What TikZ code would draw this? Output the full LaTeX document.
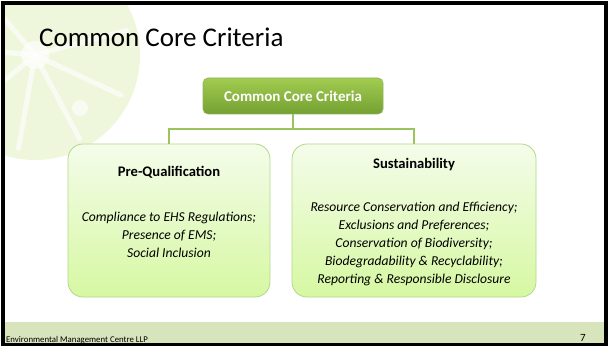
\documentclass[tikz,border=0pt]{standalone}
\usepackage{fontspec}
\setmainfont{Carlito}
\usetikzlibrary{positioning}

\definecolor{rootTop}{HTML}{A2CC50}
\definecolor{rootBottom}{HTML}{74A032}
\definecolor{boxTop}{HTML}{F4FCEA}
\definecolor{boxBottom}{HTML}{D6F8A2}
\definecolor{boxLine}{HTML}{B2D888}
\definecolor{linkGreen}{HTML}{9CC45C}
\definecolor{footerGreen}{HTML}{D8E4BC}
\definecolor{limeGreen}{HTML}{D4EBA4}

\begin{document}
\begin{tikzpicture}[
    x=1pt, y=-1pt,
    rootbox/.style={rounded corners=5pt, top color=rootTop, bottom color=rootBottom,
      draw=rootBottom!80, line width=0.6pt, minimum width=180pt, minimum height=36pt,
      text=white, font=\bfseries\fontsize{15}{18}\selectfont},
    critbox/.style={rounded corners=15pt, top color=boxTop, bottom color=boxBottom,
      draw=boxLine, line width=0.8pt, minimum height=153pt},
    head/.style={font=\bfseries\fontsize{14.6}{17}\selectfont},
    body/.style={align=center, font=\itshape\fontsize{13.6}{18}\selectfont},
    link/.style={draw=linkGreen, line width=1.6pt}
  ]

    % 1. Frame and background
    \useasboundingbox (0,0) rectangle (609,347);
    \fill[white] (0,0) rectangle (609,347);
    \begin{scope}
      \clip (5,5) rectangle (604,322);
      \fill[limeGreen, opacity=0.38] (35,55) circle (105);
      \foreach \ang in {-15,25,62,100,140,185,230} {
        \draw[white, line width=5pt, opacity=0.6, line cap=round] (35,55) -- ++(\ang:95);
      }
      \fill[white, opacity=0.6] (35,55) circle (14);
      \fill[white, opacity=0.6] (80,108) circle (8);
    \end{scope}

    % 2. Title
    \node[anchor=base west, inner sep=0pt, font=\fontsize{27}{32}\selectfont] (title) at (39,47) {Common Core Criteria};

    % 3. Boxes
    \node[rootbox] (root) at (293,96) {Common Core Criteria};
    \node[critbox, minimum width=202pt] (preq) at (169,220.5) {};
    \node[critbox, minimum width=244pt] (sust) at (414,220.5) {};

    % 4. Connectors
    \coordinate (bus) at (293,129);
    \draw[link] (root.south) -- (bus);
    \draw[link] (preq.north) |- (bus) -| (sust.north);

    % 5. Texts in the boxes
    \node[head] (preqhead) at ([yshift=-29pt]preq.north) {Pre-Qualification};
    \node[body] (preqbody) at ([yshift=-91pt]preq.north)
      {Compliance to EHS Regulations;\\Presence of EMS;\\Social Inclusion};
    \node[head] (susthead) at ([yshift=-21pt]sust.north) {Sustainability};
    \node[body] (sustbody) at ([yshift=-100pt]sust.north)
      {Resource Conservation and Efficiency;\\Exclusions and Preferences;\\Conservation of Biodiversity;\\Biodegradability \& Recyclability;\\Reporting \& Responsible Disclosure};

    % 6. Footer and frame
    \fill[footerGreen] (5,322) rectangle (604,343);
    \node[anchor=base west, inner sep=0pt, font=\fontsize{8.8}{10}\selectfont] (company) at (6,342) {Environmental Management Centre LLP};
    \node[anchor=base, inner sep=0pt, font=\fontsize{11}{13}\selectfont] (pageno) at (583,341) {7};
    \fill[black] (1,1) rectangle (608,5);
    \fill[black] (1,343) rectangle (608,346);
    \fill[black] (1,1) rectangle (5,346);
    \fill[black] (604,1) rectangle (608,346);

  \end{tikzpicture}
\end{document}
